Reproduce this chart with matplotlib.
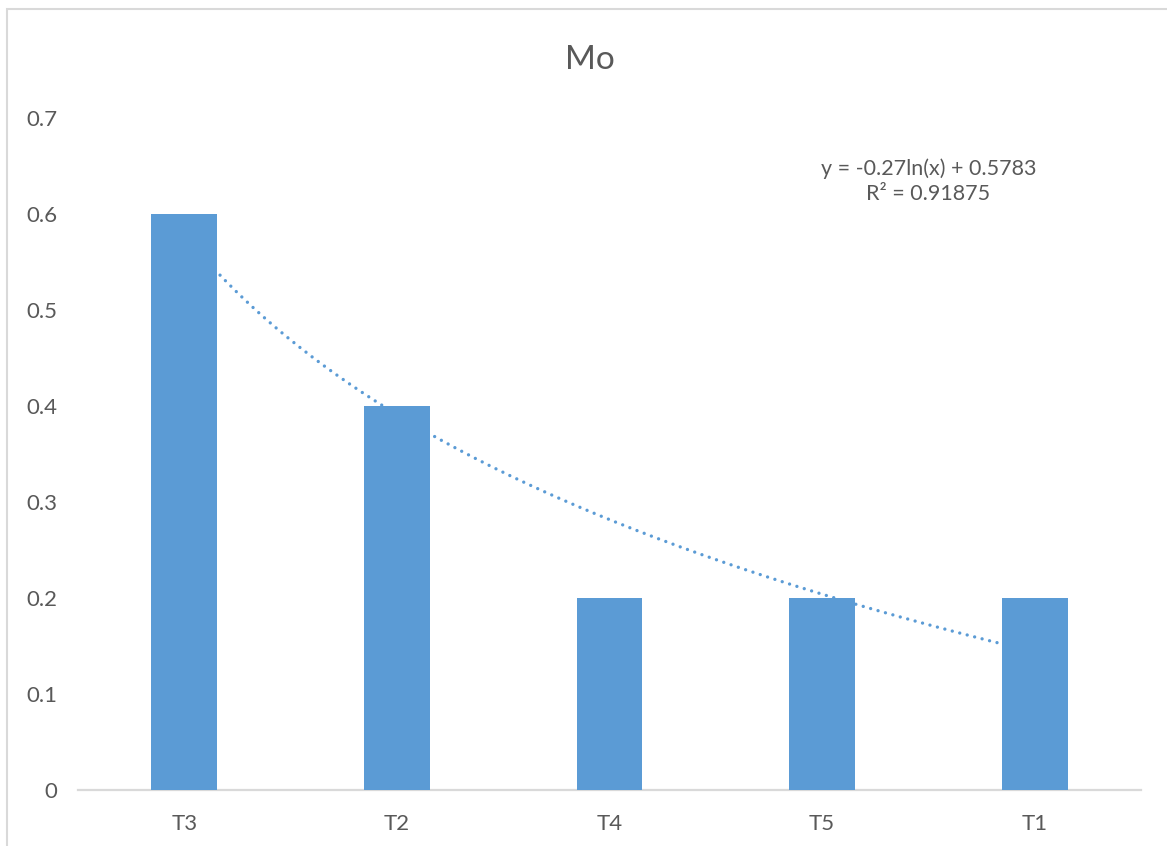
import numpy as np
import matplotlib.pyplot as plt
from matplotlib.patches import Rectangle

# Mo por tratamiento
tratamientos = ["T3", "T2", "T4", "T5", "T1"]
mo = [0.6, 0.4, 0.2, 0.2, 0.2]

# coeficientes de la tendencia logaritmica y = a*ln(x) + b
coef_a = -0.27
coef_b = 0.5783
r2 = 0.91875

azul = "#5B9BD5"
gris_texto = "#595959"
gris_linea = "#D9D9D9"

plt.rcParams["font.family"] = ["Lato", "DejaVu Sans"]

fig = plt.figure(figsize=(11.67, 8.46), dpi=100)
ax = fig.add_axes([0.0668, 0.0662, 0.9109, 0.7943])

pos = np.arange(len(tratamientos))
ax.bar(pos, mo, width=0.31, color=azul, zorder=3)

# linea de tendencia (queda detras de las barras)
xs = np.linspace(1, len(tratamientos), 200)
ys = coef_a * np.log(xs) + coef_b
ax.plot(xs - 1, ys, color=azul, linewidth=2.4, linestyle=(0, (0.01, 2.3)),
        dash_capstyle="round", zorder=2)

ax.text(3.5, 0.634, f"y = {coef_a}ln(x) + {coef_b}\nR² = {r2}",
        ha="center", va="center", fontsize=15.5, color=gris_texto,
        linespacing=1.3)

ax.set_xlim(-0.5, len(tratamientos) - 0.5)
ax.set_ylim(0, 0.7)
ax.set_yticks(np.arange(0, 0.71, 0.1))
ax.set_yticklabels(["0"] + [f"{v:.1f}" for v in np.arange(0.1, 0.71, 0.1)])
ax.set_xticks(pos)
ax.set_xticklabels(tratamientos)
ax.tick_params(axis="both", length=0, labelsize=16, labelcolor=gris_texto)
ax.tick_params(axis="x", pad=17)
ax.tick_params(axis="y", pad=15)

for lado in ["top", "right", "left"]:
    ax.spines[lado].set_visible(False)
ax.spines["bottom"].set_color(gris_linea)
ax.spines["bottom"].set_linewidth(1.6)

fig.text(0.5055, 0.929, "Mo", ha="center", va="center", fontsize=24,
         color=gris_texto)

# marco del area del grafico
fig.patches.append(Rectangle((7 / 1167, -0.05), 1.1, 1 - 9 / 846 + 0.05,
                             transform=fig.transFigure, fill=False,
                             edgecolor=gris_linea, linewidth=1.5))

fig.savefig("out.png", dpi=100)
